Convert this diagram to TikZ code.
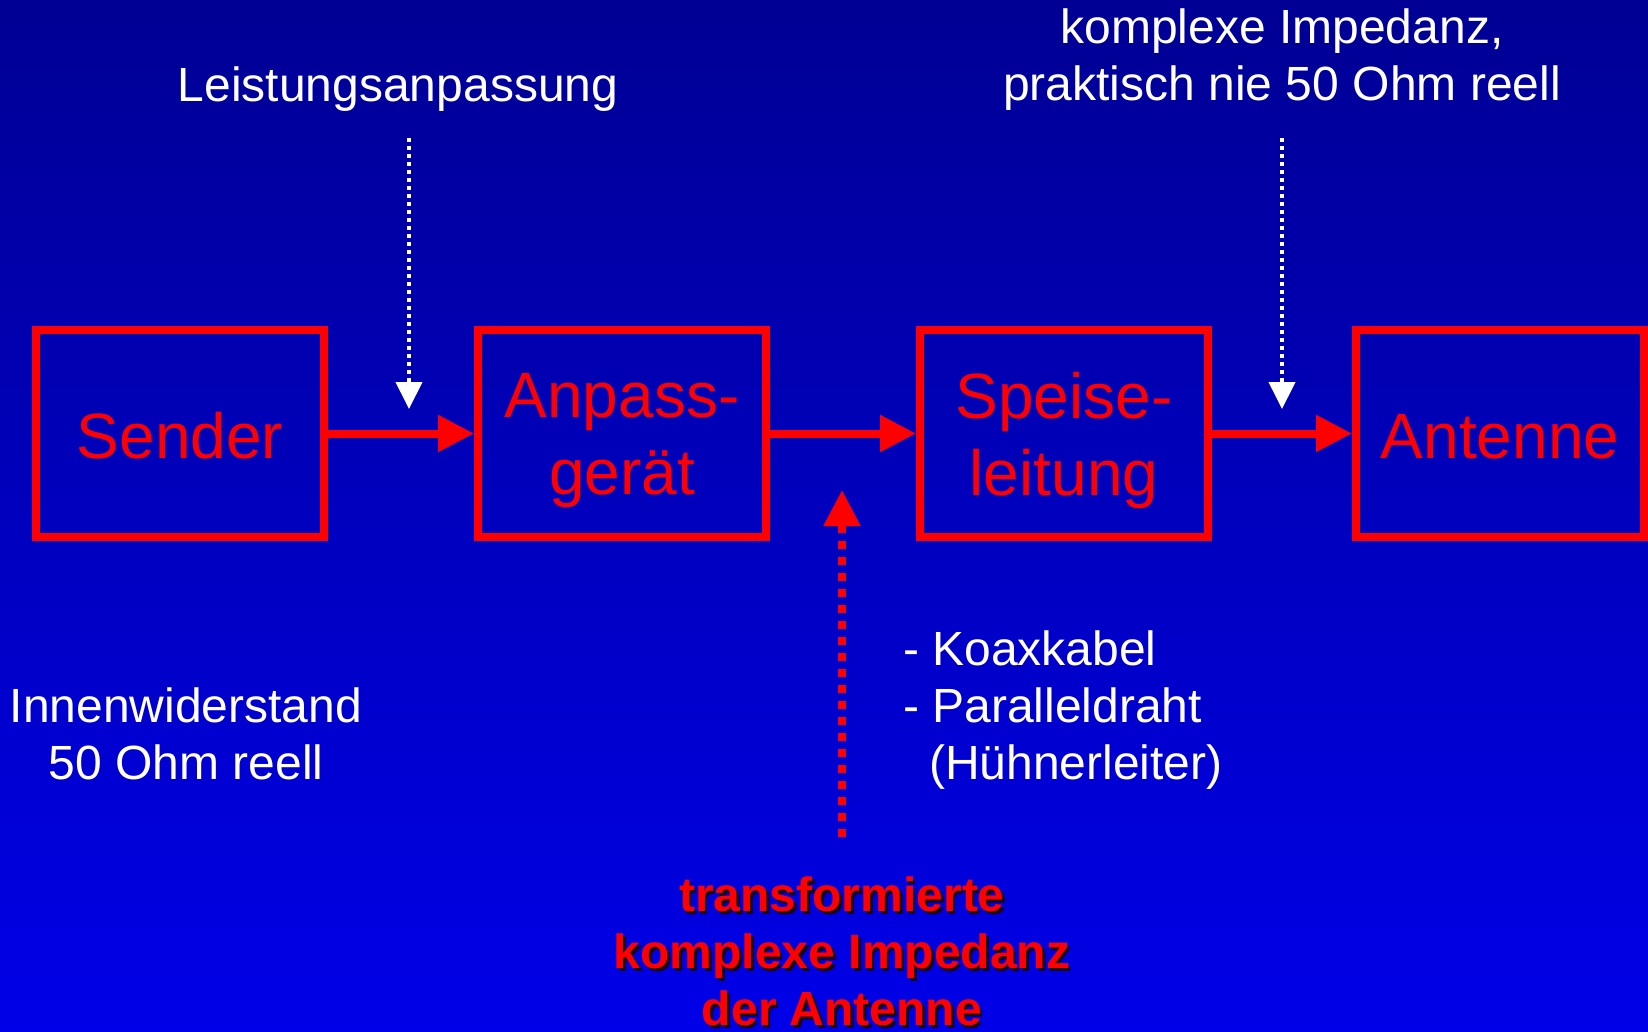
\documentclass[tikz,border=0pt]{standalone}
\usepackage{fontspec}
\setmainfont{Liberation Sans}
\usepackage{tikz}
\usetikzlibrary{arrows.meta, positioning}
\definecolor{bgtop}{RGB}{0,0,148}
\definecolor{bgbottom}{RGB}{0,0,232}
\definecolor{schattenfarbe}{RGB}{25,0,20}
\newcommand\schatten[1]{\rlap{\kern2.5pt\raisebox{-2.5pt}{\color{schattenfarbe}#1}}#1}

\begin{document}
\begin{tikzpicture}[x=1pt,y=-1pt]
        \shade[top color=bgtop,bottom color=bgbottom] (0,0) rectangle (1648,1031);
        \useasboundingbox (0,0) rectangle (1648,1031);
        \begin{scope}[every node/.style={draw=red,line width=8pt,minimum width=288pt,minimum height=207pt,inner sep=0pt,align=center,text=red,font=\fontsize{64}{77}\selectfont}]
          \node[text height=51pt] (send) at (180,433.5) {Sender};
          \node (anp) at (622,433.5) {Anpass-\\\smash{gerät}};
          \node (speise) at (1064,433.5) {Speise-\\\smash{leitung}};
          \node[text height=51pt] (ant) at (1500,433.5) {Antenne};
        \end{scope}
        \begin{scope}[every node/.style={text=white,inner sep=0pt,font=\fontsize{48}{57}\selectfont}]
          \node[anchor=base] (lstg) at (398,101) {Leistungsanpassung};
          \node[anchor=north,align=center] (kompl) at (1282,8.6) {komplexe Impedanz,\\praktisch nie 50 Ohm reell};
          \node[anchor=north,align=center] (innen) at (186,687.6) {Innenwiderstand\\50 Ohm reell};
          \node[anchor=north west,align=left] (leit) at (903,630.6) {- Koaxkabel\\- Paralleldraht\\\hspace{26pt}(Hühnerleiter)};
          \node[anchor=north,align=center,text=red,font=\fontsize{48}{57}\selectfont\bfseries] (trafo) at (842,877) {\schatten{transformierte}\\\schatten{komplexe Impedanz}\\\schatten{der Antenne}};
        \end{scope}
        \coordinate (l1) at (409,138);
        \coordinate (l2) at (409,409);
        \coordinate (k1) at (1282,138);
        \coordinate (k2) at (1282,409);
        \coordinate (t1) at (842,837);
        \coordinate (t2) at (842,490);
        \begin{scope}[every edge/.style={draw=red,line width=8pt,-{Triangle[length=36pt,width=35pt]}}]
          \path (send) edge (anp);
          \path (anp) edge (speise);
          \path (speise) edge (ant);
          \path (t1) edge[dash pattern=on 8pt off 8pt] (t2);
        \end{scope}
        \begin{scope}[every edge/.style={draw=white,line width=4pt,dash pattern=on 4pt off 4pt,-{Triangle[length=27pt,width=26pt]}}]
          \path (l1) edge (l2);
          \path (k1) edge (k2);
        \end{scope}
      \end{tikzpicture}
\end{document}
